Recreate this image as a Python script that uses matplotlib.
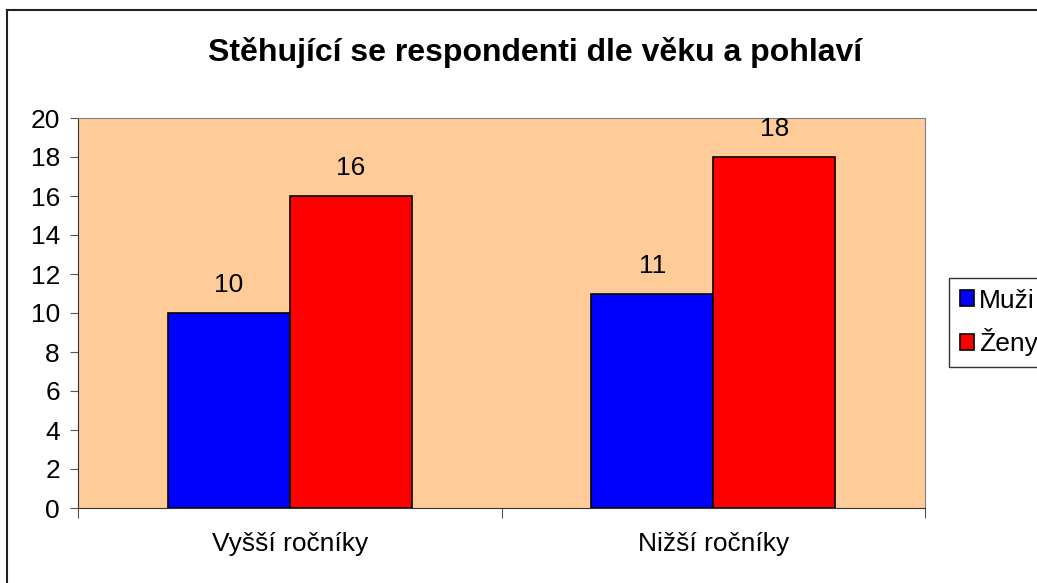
import numpy as np
import matplotlib
matplotlib.use("Agg")
from matplotlib import pyplot as plt
from matplotlib.lines import Line2D

plt.rcParams['font.family'] = ['Liberation Sans', 'DejaVu Sans']

# data
categories = ['Vyšší ročníky', 'Nižší ročníky']
muzi = [10, 11]
zeny = [16, 18]
series_names = ['Muži', 'Ženy']
colors = ['#0000FF', '#FF0000']

fig = plt.figure(figsize=(10.37, 5.83), dpi=100)
ax = fig.add_axes([78/1037, 1 - 508/583, (925-78)/1037, (508-118)/583])
ax.set_facecolor('#FFCC99')

x = np.arange(len(categories))
w = 0.288
b1 = ax.bar(x - w/2, muzi, w, color=colors[0], edgecolor='black', linewidth=1.2, label=series_names[0], zorder=3)
b2 = ax.bar(x + w/2, zeny, w, color=colors[1], edgecolor='black', linewidth=1.2, label=series_names[1], zorder=3)

# value labels above the bars
for bars in (b1, b2):
    for r in bars:
        ax.annotate(str(int(r.get_height())), (r.get_x() + r.get_width()/2, r.get_height()),
                    xytext=(0, 20), textcoords='offset points', ha='center', va='center', fontsize=19)

ax.set_xlim(-0.5, 1.5)
ax.set_ylim(0, 20)
ax.set_yticks(range(0, 21, 2))
ax.tick_params(axis='y', labelsize=19, length=6, color='#555555', pad=7)
ax.set_xticks([-0.5, 0.5, 1.5])
ax.set_xticklabels([])
ax.set_xticks(x, minor=True)
ax.set_xticklabels(categories, minor=True, fontsize=19)
ax.tick_params(axis='x', which='major', length=7, color='#555555')
ax.tick_params(axis='x', which='minor', length=0, pad=17)

for s in ['top', 'right']:
    ax.spines[s].set_color('#808080')
for s in ['left', 'bottom']:
    ax.spines[s].set_color('#333333')

fig.text(535/1037, 1 - 52/583, 'Stěhující se respondenti dle věku a pohlaví',
         ha='center', va='center', fontsize=23, fontweight='bold')

leg = fig.legend(handles=[b1, b2], loc='upper left', bbox_to_anchor=(949/1037, 1 - 278/583),
                 fontsize=19, frameon=True, fancybox=False, edgecolor='black',
                 handlelength=0.55, handleheight=0.55, handletextpad=0.2, borderpad=0.4,
                 labelspacing=0.6, borderaxespad=0)
leg.get_frame().set_linewidth(1)

# outer chart border (top and left visible)
fig.add_artist(Line2D([7/1037, 7/1037], [0, 1 - 10/583], transform=fig.transFigure, color='#222222', lw=1.5))
fig.add_artist(Line2D([7/1037, 1], [1 - 10/583, 1 - 10/583], transform=fig.transFigure, color='#222222', lw=1.5))

fig.savefig('out.png', dpi=100)
